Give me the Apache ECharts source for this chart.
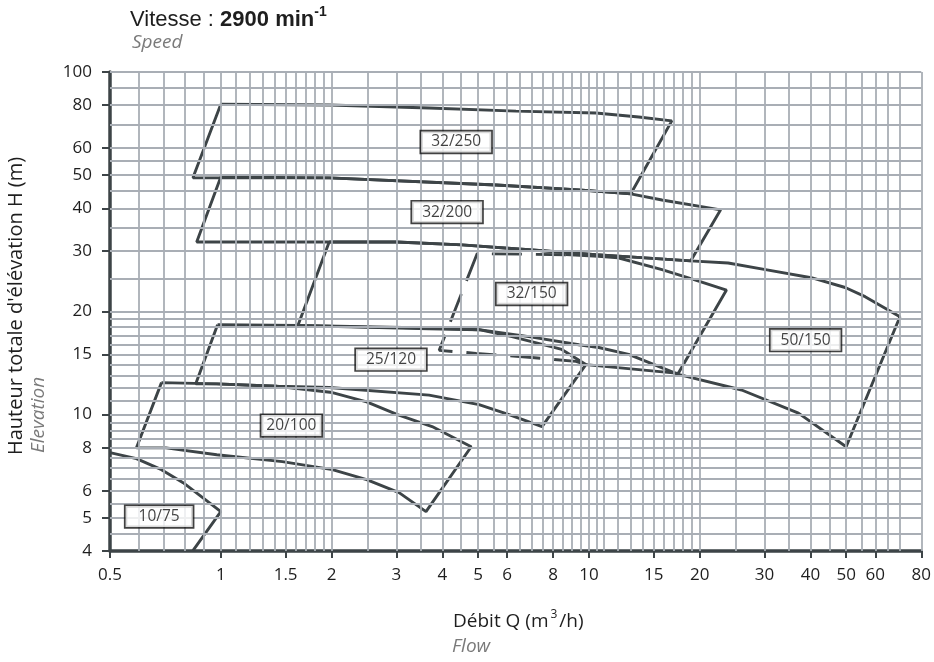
<!DOCTYPE html>
<html>
<head>
<meta charset="utf-8">
<script src="https://cdn.jsdelivr.net/npm/echarts@6/dist/echarts.min.js"></script>
</head>
<body style="margin:0;background:#fff">
<div id="chart" style="width:934px;height:662px"></div>
<script>
// labelled ticks
var xTicks = [0.5, 1, 1.5, 2, 3, 4, 5, 6, 8, 10, 15, 20, 30, 40, 50, 60, 80];
var yTicks = [4, 5, 6, 8, 10, 15, 20, 30, 40, 50, 60, 80, 100];

// light grid lines of the printed log paper
var xGrid = [0.6, 0.7, 0.8, 0.9, 1, 1.1, 1.2, 1.3, 1.4, 1.5, 1.6, 1.7, 1.8, 1.9, 2,
  2.5, 3, 3.5, 4, 4.5, 5, 5.5, 6, 6.5, 7, 7.5, 8, 8.5, 9, 9.5, 10, 10.5,
  11, 12, 13, 14, 15, 16, 17, 18, 19, 20, 25, 30, 35, 40, 45, 50, 55, 60, 65, 70, 80];
var yGrid = [4.5, 5, 5.5, 6, 6.5, 7, 7.5, 8, 8.5, 9, 9.5, 10, 11, 12, 13, 14, 15, 16, 17, 18, 19,
  20, 25, 30, 35, 40, 45, 50, 55, 60, 70, 80, 90, 100];

// pump ranges [Q m3/h, H m]
var p10_75 = [[0.5, 7.75], [0.59, 7.44], [0.69, 6.91], [0.79, 6.33], [0.93, 5.54], [1.0, 5.21], [0.84, 4.01]];

var p20_100Top = [[0.69, 12.4], [0.975, 12.3], [1.42, 12.1], [2.01, 11.6], [2.49, 10.9], [3.02, 10.0], [3.75, 9.23], [4.79, 8.06]];
var p20_100Bottom = [[0.59, 8.0], [0.71, 8.0], [0.975, 7.64], [1.47, 7.29], [2.01, 6.91], [2.49, 6.46], [3.05, 5.92], [3.61, 5.21]];

var p25_120Top = [[0.98, 18.3], [1.62, 18.2], [3.68, 17.8], [5.03, 17.7], [6.18, 16.9], [8.44, 15.5], [9.81, 14.0]];
var p25_120Bottom = [[0.855, 12.3], [0.975, 12.3], [1.42, 12.1], [1.97, 12.0], [3.68, 11.4], [5.03, 10.7], [6.07, 10.0], [7.46, 9.23]];

var p32_150Top = [[4.97, 29.5], [8.66, 29.3], [10.6, 29.0], [12.0, 28.7], [15.8, 26.5], [19.5, 24.7], [23.65, 23.1]];
var p32_150Bottom = [[3.92, 15.4], [4.94, 15.1], [6.87, 14.7], [9.22, 14.3], [9.81, 14.0], [17.5, 13.2]];

var p32_200Top = [[1.0, 49.4], [1.97, 49.1], [5.6, 46.8], [9.4, 45.3], [13.0, 44.1], [15.8, 42.3], [22.8, 39.6]];
var p32_200Bottom = [[0.86, 31.9], [1.97, 31.9], [3.0, 31.9], [4.52, 31.3], [6.87, 30.3], [10.44, 29.3], [18.9, 28.1]];

var p32_250Top = [[1.0, 80.5], [1.97, 80.1], [3.68, 78.5], [6.34, 76.9], [10.44, 75.9], [13.66, 73.9], [16.8, 72.0]];
var p32_250Bottom = [[0.84, 49.1], [1.97, 49.1], [5.6, 46.8], [9.4, 45.3], [13.0, 44.1]];

var p50_150Top = [[1.97, 31.9], [3.0, 31.9], [4.52, 31.3], [6.87, 30.3], [10.44, 29.3], [18.9, 28.1], [23.9, 27.7],
  [30.2, 26.5], [40.2, 25.1], [49.7, 23.5], [56.3, 22.1], [70, 19.3]];
var p50_150Bottom = [[1.62, 18.2], [3.68, 17.9], [5.03, 17.7], [6.87, 16.9], [9.39, 16.0], [10.64, 15.7], [12.83, 15.0],
  [17.5, 13.1], [26.0, 11.8], [37.1, 10.1], [50, 8.06]];

// pump type labels [name, Q, H]
var pumpLabels = [
  ['10/75', 0.68, 5.04],
  ['20/100', 1.555, 9.29],
  ['25/120', 2.9, 14.47],
  ['32/150', 6.99, 22.5],
  ['32/200', 4.12, 39.0],
  ['32/250', 4.36, 62.5],
  ['50/150', 38.8, 16.5]
];

var ink = '#3d4447';
var gridColor = '#a9aeb5';

function outline(top, bottom) {
  return top.concat(bottom.slice().reverse(), [top[0]]);
}

function curve(name, data, dashed) {
  return {
    name: name,
    type: 'line',
    data: data,
    showSymbol: false,
    symbol: 'none',
    silent: true,
    z: 3,
    lineStyle: { color: ink, width: 2.9, type: dashed ? [30, 14] : 'solid' }
  };
}

var labelPad = { '10/75': [2, 13, 1, 13], '20/100': [2, 5, 1, 5] };

var chart = echarts.init(document.getElementById('chart'));

chart.setOption({
  animation: false,
  backgroundColor: '#fff',
  grid: { left: 110, right: 11, top: 72, bottom: 111 },
  xAxis: {
    type: 'log',
    logBase: 10,
    min: 0.5,
    max: 80,
    axisLine: { onZero: false, lineStyle: { color: ink, width: 3.5 } },
    axisTick: { customValues: xTicks, length: 7, lineStyle: { color: ink, width: 2 } },
    axisLabel: { customValues: xTicks, fontSize: 17, fontFamily: 'Open Sans', color: '#1e1e1e', margin: 16 },
    splitLine: { show: false },
    minorTick: { show: false }
  },
  yAxis: {
    type: 'log',
    logBase: 10,
    min: 4,
    max: 100,
    axisLine: { onZero: false, lineStyle: { color: ink, width: 3.5 } },
    axisTick: { customValues: yTicks, length: 8, lineStyle: { color: ink, width: 2 } },
    axisLabel: { customValues: yTicks, fontSize: 17, fontFamily: 'Open Sans', color: '#1e1e1e', margin: 18 },
    splitLine: { show: false },
    minorTick: { show: false }
  },
  graphic: [
    {
      type: 'text', x: 130, y: 5,
      style: {
        text: '{a|Vitesse : }{b|2900 min}{c|-1}',
        fill: '#1e1e1e',
        rich: {
          a: { fontSize: 22, lineHeight: 30, fontFamily: 'Liberation Sans', fill: '#1e1e1e' },
          b: { fontSize: 22, lineHeight: 30, fontFamily: 'Liberation Sans', fontWeight: 'bold', fill: '#1e1e1e' },
          c: { fontSize: 14, lineHeight: 14, fontFamily: 'Liberation Sans', fontWeight: 'bold', fill: '#1e1e1e', verticalAlign: 'top' }
        }
      }
    },
    {
      type: 'text', x: 132, y: 33,
      style: { text: 'Speed', fontSize: 19, fontStyle: 'italic', fontFamily: 'Open Sans', fill: '#7a7a7a' }
    },
    {
      type: 'text', x: 16, y: 455, rotation: Math.PI / 2,
      style: { text: 'Hauteur totale d\'élévation H (m)', fontSize: 20, fontFamily: 'Open Sans', fill: '#1e1e1e',
        textAlign: 'left', textVerticalAlign: 'middle' }
    },
    {
      type: 'text', x: 39, y: 453, rotation: Math.PI / 2,
      style: { text: 'Elevation', fontSize: 19, fontStyle: 'italic', fontFamily: 'Open Sans', fill: '#7a7a7a',
        textAlign: 'left', textVerticalAlign: 'middle' }
    },
    {
      type: 'text', x: 453, y: 609,
      style: {
        text: '{a|Débit Q (m}{s|3}{a|/h)}',
        rich: {
          a: { fontSize: 19, lineHeight: 26, fontFamily: 'Open Sans', fill: '#1e1e1e' },
          s: { fontSize: 12, lineHeight: 12, fontFamily: 'Open Sans', fill: '#1e1e1e', verticalAlign: 'top', padding: [0, 2, 0, 2] }
        }
      }
    },
    {
      type: 'text', x: 452, y: 637,
      style: { text: 'Flow', fontSize: 19, fontStyle: 'italic', fontFamily: 'Open Sans', fill: '#7a7a7a' }
    }
  ],
  series: [
    {
      name: 'grid',
      type: 'line',
      data: [],
      z: 1,
      silent: true,
      markLine: {
        silent: true,
        symbol: ['none', 'none'],
        label: { show: false },
        lineStyle: { color: gridColor, width: 1.8, type: 'solid' },
        emphasis: { disabled: true },
        data: xGrid.map(function (v) { return { xAxis: v }; })
          .concat(yGrid.map(function (v) { return { yAxis: v }; }))
      }
    },
    curve('10/75', p10_75),
    curve('20/100', outline(p20_100Top, p20_100Bottom)),
    curve('25/120', outline(p25_120Top, p25_120Bottom)),
    curve('32/150', p32_150Top.slice(1).concat(p32_150Bottom.slice(4).reverse())),
    curve('32/150 dashed', [p32_150Top[1], p32_150Top[0]].concat(p32_150Bottom.slice(0, 5)), true),
    curve('32/200', outline(p32_200Top, p32_200Bottom)),
    curve('32/250', outline(p32_250Top, p32_250Bottom)),
    curve('50/150', outline(p50_150Top, p50_150Bottom)),
    {
      name: 'labels',
      type: 'scatter',
      symbolSize: 1,
      z: 5,
      silent: true,
      itemStyle: { color: 'rgba(0,0,0,0)' },
      label: {
        show: true,
        position: 'inside',
        formatter: '{b}',
        fontSize: 15.5,
        fontFamily: 'Open Sans',
        color: '#111',
        lineHeight: 18,
        backgroundColor: '#fff',
        borderColor: '#111',
        borderWidth: 1.7,
        padding: [2, 10, 1, 10]
      },
      data: pumpLabels.map(function (l) {
        var item = { name: l[0], value: [l[1], l[2]] };
        if (labelPad[l[0]]) item.label = { padding: labelPad[l[0]] };
        return item;
      })
    }
  ]
});
</script>
</body>
</html>
